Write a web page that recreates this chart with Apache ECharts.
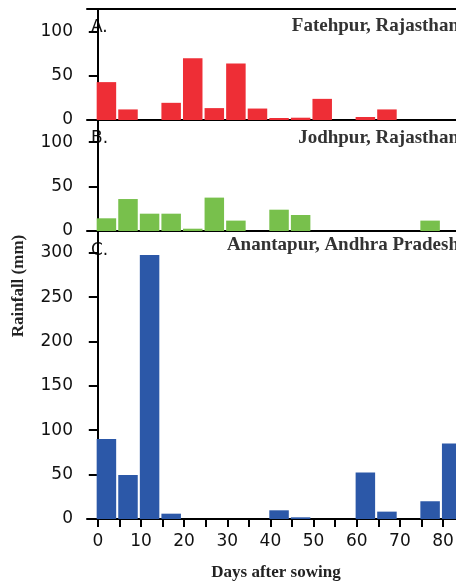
<!DOCTYPE html>
<html>
<head>
<meta charset="utf-8">
<script src="https://cdn.jsdelivr.net/npm/echarts@6.0.0/dist/echarts.min.js"></script>
<style>
html, body { margin: 0; padding: 0; overflow: hidden; background: #fff; }
#rain { width: 540px; height: 582px; }
</style>
</head>
<body>
<div id="rain"></div>
<script>
// 5-day bins, start day of each bin
var binStart = [0, 5, 10, 15, 20, 25, 30, 35, 40, 45, 50, 55, 60, 65, 70, 75, 80];
// rainfall (mm) per bin
var fatehpur = [43, 12, 0, 19.5, 70, 13.5, 64, 13, 2.3, 2.6, 24, 0, 3.4, 12, 0, 0, 0];
var jodhpur = [14.3, 36, 19.5, 19.5, 2.6, 37.6, 11.7, 0, 24, 18, 0, 0, 0, 0, 0, 11.7, 0];
var anantapur = [90, 49.6, 297.5, 6, 0, 0, 0, 0, 9.8, 1.9, 0, 0, 52.3, 8.3, 0, 20, 85];

var yTicksSmall = [0, 50, 100];
var yTicksBig = [0, 50, 100, 150, 200, 250, 300];
var xTicks = [0, 5, 10, 15, 20, 25, 30, 35, 40, 45, 50, 55, 60, 65, 70, 75, 80, 85, 90];
var xLabels = [0, 10, 20, 30, 40, 50, 60, 70, 80, 90];

var panelLetters = ['A.', 'B.', 'C.'];
var panelNames = ['Fatehpur, Rajasthan', 'Jodhpur, Rajasthan', 'Anantapur, Andhra Pradesh'];

var myChart = echarts.init(document.getElementById('rain'));

var lineStyle = { color: '#000', width: 2 };
var tickFont = { color: '#111', fontFamily: 'DejaVu Sans', fontSize: 17 };
var serifBold = 'bold 19px "Liberation Serif", "Times New Roman", serif';

var grids = [
  { left: 87, top: 9, width: 410, height: 111 },
  { left: 87, top: 120, width: 410, height: 111 },
  { left: 87, top: 231, width: 410, height: 288 }
];
var yMax = [126, 125, 324.5];
var yTicks = [yTicksSmall, yTicksSmall, yTicksBig];
var values = [fatehpur, jodhpur, anantapur];
var colors = ['#ee2e36', '#78c04c', '#2c58a8'];

var xAxes = [];
var yAxes = [];
var series = [];
for (var i = 0; i < 3; i++) {
  var last = i === 2;
  xAxes.push({
    type: 'value', gridIndex: i, min: -2.5, max: 92.5,
    axisLine: { show: true, onZero: false, lineStyle: lineStyle },
    axisTick: { show: last, customValues: xTicks, length: 8, lineStyle: lineStyle },
    axisLabel: Object.assign({ show: last, customValues: xLabels, margin: 14 }, tickFont),
    splitLine: { show: false }
  });
  yAxes.push({
    type: 'value', gridIndex: i, min: 0, max: yMax[i],
    axisLine: { show: true, lineStyle: lineStyle },
    axisTick: { show: true, customValues: yTicks[i], length: 9, lineStyle: lineStyle },
    axisLabel: Object.assign({ customValues: yTicks[i], margin: 14 }, tickFont),
    splitLine: { show: false }
  });
  series.push({
    type: 'bar', xAxisIndex: i, yAxisIndex: i,
    barWidth: 19.5,
    itemStyle: { color: colors[i] },
    data: binStart.map(function (d, k) { return [d + 2, values[i][k]]; })
  });
}
// top frame line of panel A
xAxes.push({
  type: 'value', gridIndex: 0, position: 'top', min: -2.5, max: 92.5,
  axisLine: { show: true, onZero: false, lineStyle: lineStyle },
  axisTick: { show: false }, axisLabel: { show: false }, splitLine: { show: false }
});

var letterY = [28, 139, 251];
var nameY = [26, 138, 245];
var graphic = [];
for (var j = 0; j < 3; j++) {
  graphic.push({
    type: 'text', x: 91, y: letterY[j],
    style: { text: panelLetters[j], font: '17px "DejaVu Sans", sans-serif', fill: '#111', align: 'left', verticalAlign: 'middle' }
  });
  graphic.push({
    type: 'text', x: 459, y: nameY[j],
    style: { text: panelNames[j], font: serifBold, fill: '#333', align: 'right', verticalAlign: 'middle' }
  });
}
graphic.push({
  type: 'text', x: 19, y: 286, rotation: Math.PI / 2,
  style: { text: 'Rainfall (mm)', font: 'bold 17px "Liberation Serif", serif', fill: '#222', align: 'center', verticalAlign: 'middle' }
});
graphic.push({
  type: 'text', x: 276, y: 573,
  style: { text: 'Days after sowing', font: 'bold 17px "Liberation Serif", serif', fill: '#222', align: 'center', verticalAlign: 'middle' }
});

var option = {
  animation: false,
  grid: grids,
  xAxis: xAxes,
  yAxis: yAxes,
  series: series,
  graphic: graphic
};

myChart.setOption(option);
</script>
</body>
</html>
